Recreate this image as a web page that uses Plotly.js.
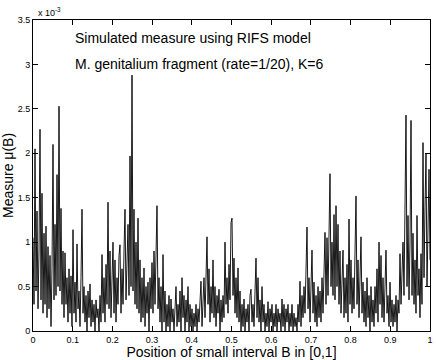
<!DOCTYPE html>
<html>
<head>
<meta charset="utf-8">
<script src="https://cdn.plot.ly/plotly-3.0.1.min.js"></script>
<style>
  body { margin: 0; background: #fff; }
  #plot { width: 436px; height: 360px; }
</style>
</head>
<body>
<div id="plot"></div>
<script>
// Measure values (units of 1e-3) left to right
let measure = [
  1.05, 0.3, 2.05, 0.45, 1.35, 0.25, 0.9, 2.27, 0.35, 1.55,
  0.2, 1.1, 0.3, 1.18, 0.15, 0.95, 0.25, 0.85, 0.05, 0.7,
  2.1, 0.35, 1.2, 0.4, 1.76, 0.5, 2.53, 0.45, 1.38, 0.3,
  0.9, 0.15, 0.88, 0.3, 0.6, 0.1, 0.7, 0.2, 0.62, 0.05,
  1.14, 0.2, 0.55, 0.1, 0.98, 0.25, 0.45, 0.05, 0.6, 1.37,
  0.2, 0.5, 0.1, 0.4, 0.0, 0.45, 0.15, 0.53, 0.05, 0.35,
  0.1, 0.3, 0.0, 0.35, 0.15, 0.25, 0.0, 0.4, 0.1, 0.86,
  0.2, 0.6, 0.1, 0.75, 0.3, 1.45, 0.25, 0.9, 0.15, 0.7,
  1.0, 0.2, 0.8, 0.1, 0.6, 0.3, 0.85, 0.97, 0.2, 0.7,
  0.3, 0.9, 1.37, 0.35, 0.8, 1.2, 0.4, 1.97, 0.5, 2.88,
  0.45, 1.37, 0.3, 1.0, 0.25, 1.27, 0.2, 0.8, 0.1, 0.6,
  0.15, 0.71, 0.05, 0.5, 0.2, 0.55, 0.0, 0.6, 0.25, 0.77,
  0.2, 0.9, 0.3, 1.1, 1.41, 0.25, 0.6, 0.1, 0.5, 0.0,
  0.86, 0.1, 0.45, 0.0, 0.3, 0.05, 0.4, 0.0, 0.36, 0.1,
  0.25, 0.0, 0.35, 0.5, 0.05, 0.3, 0.1, 0.45, 0.0, 0.6,
  0.15, 0.4, 0.0, 0.35, 0.1, 0.5, 0.0, 0.3, 0.05, 0.25,
  0.0, 0.2, 0.05, 0.3, 0.0, 0.25, 0.1, 0.35, 0.56, 0.05,
  0.3, 0.6, 0.15, 0.8, 1.06, 0.3, 0.7, 0.1, 0.5, 0.2,
  0.8, 0.15, 0.5, 0.05, 0.4, 0.2, 0.47, 0.0, 0.35, 0.1,
  0.4, 0.15, 1.0, 0.3, 0.6, 0.2, 0.75, 0.35, 1.22, 1.27,
  0.4, 0.82, 0.2, 0.6, 0.15, 0.71, 0.1, 0.45, 0.0, 0.3,
  0.05, 0.36, 0.0, 0.25, 0.1, 0.3, 0.0, 0.4, 0.47, 0.1,
  0.3, 0.05, 0.5, 0.82, 0.15, 0.6, 0.1, 0.35, 0.0, 0.5,
  0.1, 0.3, 0.0, 0.2, 0.05, 0.33, 0.0, 0.25, 0.1, 0.3,
  0.0, 0.2, 0.05, 0.3, 0.0, 0.25, 0.1, 0.2, 0.0, 0.36,
  0.05, 0.3, 0.0, 0.25, 0.1, 0.3, 0.0, 0.2, 0.05, 0.3,
  0.0, 0.2, 0.05, 0.15, 0.0, 0.3, 0.1, 0.56, 0.05, 0.4,
  0.15, 0.5, 0.2, 0.7, 1.17, 0.25, 0.6, 0.1, 0.5, 0.91,
  0.2, 0.55, 0.1, 0.4, 0.05, 0.5, 0.15, 0.45, 0.1, 0.6,
  0.2, 0.7, 1.11, 0.3, 1.05, 0.4, 1.3, 1.77, 0.5, 1.0,
  0.4, 1.31, 0.35, 1.41, 0.5, 1.2, 0.3, 0.9, 0.2, 0.7,
  0.91, 0.15, 0.6, 0.2, 0.75, 0.1, 1.26, 0.3, 0.8, 0.2,
  0.6, 0.25, 1.0, 1.52, 0.3, 0.8, 0.15, 0.7, 1.06, 0.2,
  0.55, 0.1, 0.45, 0.05, 0.6, 0.15, 0.4, 0.0, 0.5, 0.1,
  0.35, 0.05, 0.5, 0.2, 0.7, 0.1, 1.0, 0.3, 0.85, 0.15,
  0.6, 0.1, 0.5, 0.91, 0.2, 0.4, 0.05, 0.55, 0.1, 0.35,
  0.05, 0.3, 0.1, 0.4, 0.0, 0.35, 0.2, 0.87, 0.3, 0.6,
  1.0, 0.4, 1.6, 2.43, 0.5, 1.3, 0.35, 1.0, 2.37, 0.4,
  1.1, 0.3, 0.8, 0.2, 1.3, 0.4, 0.7, 0.15, 0.87, 0.3,
  2.12, 0.6, 1.4, 2.0, 0.5, 1.2, 1.82, 0.8
]

// positions of the small intervals, evenly spread over [0,1]
let position = []
for (let i = 0; i < measure.length; i++) {
    position.push(i / (measure.length - 1))
}

let xTicks = [0, 0.1, 0.2, 0.3, 0.4, 0.5, 0.6, 0.7, 0.8, 0.9, 1]
let xTickText = ['0', '0.1', '0.2', '0.3', '0.4', '0.5', '0.6', '0.7', '0.8', '0.9', '1']
let yTicks = [0, 0.5, 1, 1.5, 2, 2.5, 3, 3.5]
let yTickText = ['0', '0.5', '1', '1.5', '2', '2.5', '3', '3.5']

let trace = {
    x: position,
    y: measure,
    type: 'scatter',
    mode: 'lines',
    line: { color: '#000', width: 0.9 },
    hoverinfo: 'skip'
}

let font = 'Liberation Sans, Arial, Helvetica, sans-serif'

let layout = {
    width: 436,
    height: 360,
    margin: { l: 33, r: 6, t: 20, b: 29, pad: 0 },
    paper_bgcolor: '#fff',
    plot_bgcolor: '#fff',
    showlegend: false,
    font: { family: font, color: '#000' },
    xaxis: {
        range: [0, 1],
        tickvals: xTicks,
        ticktext: xTickText,
        ticks: 'inside',
        ticklen: 5,
        tickcolor: '#000',
        tickfont: { size: 9 },
        showgrid: false,
        zeroline: false,
        showline: true,
        linecolor: '#000',
        linewidth: 1,
        mirror: 'allticks',
        title: { text: 'Position of small interval B in [0,1]', font: { size: 14 }, standoff: 5 }
    },
    yaxis: {
        range: [0, 3.5],
        tickvals: yTicks,
        ticktext: yTickText,
        ticks: 'inside',
        ticklen: 5,
        tickcolor: '#000',
        tickfont: { size: 9 },
        showgrid: false,
        zeroline: false,
        showline: true,
        linecolor: '#000',
        linewidth: 1,
        mirror: 'allticks',
        title: { text: 'Measure \u03bc(B)', font: { size: 14 }, standoff: 6 }
    },
    annotations: [
        {
            text: 'x 10<sup>-3</sup>', xref: 'paper', yref: 'paper', x: 0.008, y: 1,
            xanchor: 'left', yanchor: 'bottom', showarrow: false, font: { size: 9 }
        },
        {
            text: 'Simulated measure using RIFS model', xref: 'x', yref: 'y', x: 0.1, y: 3.3,
            xanchor: 'left', yanchor: 'middle', showarrow: false, font: { size: 14 }
        },
        {
            text: 'M. genitalium fragment (rate=1/20), K=6', xref: 'x', yref: 'y', x: 0.1, y: 3.0,
            xanchor: 'left', yanchor: 'middle', showarrow: false, font: { size: 14 }
        }
    ]
}

Plotly.newPlot('plot', [trace], layout, { staticPlot: true })
</script>
</body>
</html>
